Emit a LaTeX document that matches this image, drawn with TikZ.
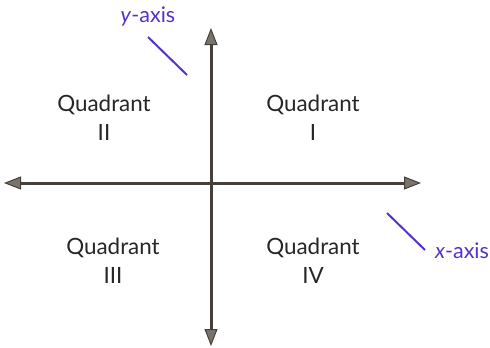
\documentclass[tikz,border=0pt]{standalone}
\usepackage{fontspec}
\setmainfont{Lato}
\usetikzlibrary{arrows.meta}
\definecolor{axisgray}{RGB}{70,64,58}
\definecolor{headgray}{RGB}{120,115,108}
\definecolor{labelblue}{RGB}{85,50,200}
\tikzset{
  tip/.tip={Triangle[length=17pt,width=13pt,fill=headgray,line width=1pt]},
  axisline/.style={line width=3pt, draw=axisgray, tip-tip},
  quad/.style={font=\fontsize{22.4}{29}\selectfont, text=black!85, align=center},
  axlabel/.style={font=\fontsize{21.5}{25}\selectfont, text=labelblue},
  pointer/.style={draw=labelblue, line width=2pt}
}
\begin{document}
\begin{tikzpicture}[x=1pt,y=-1pt]
\useasboundingbox (0,0) rectangle (490,348);
\coordinate (xl) at (4,183);
\coordinate (xr) at (421,183);
\coordinate (yt) at (211,28);
\coordinate (yb) at (211,346);
\draw[axisline] (xl) -- (xr);
\draw[axisline] (yt) -- (yb);
\node[quad] (q1) at (313,118) {Quadrant\\I};
\node[quad] (q2) at (104,118) {Quadrant\\II};
\node[quad] (q3) at (113,261) {Quadrant\\III};
\node[quad] (q4) at (313,261) {Quadrant\\IV};
\node[axlabel] (ylab) at (148,17) {\textit{y}-axis};
\node[axlabel] (xlab) at (462,251) {\textit{x}-axis};
\coordinate (yp1) at (148,37);
\coordinate (yp2) at (187,75);
\coordinate (xp1) at (387,213);
\coordinate (xp2) at (425,250);
\draw[pointer] (yp1) -- (yp2);
\draw[pointer] (xp1) -- (xp2);
\end{tikzpicture}
\end{document}
